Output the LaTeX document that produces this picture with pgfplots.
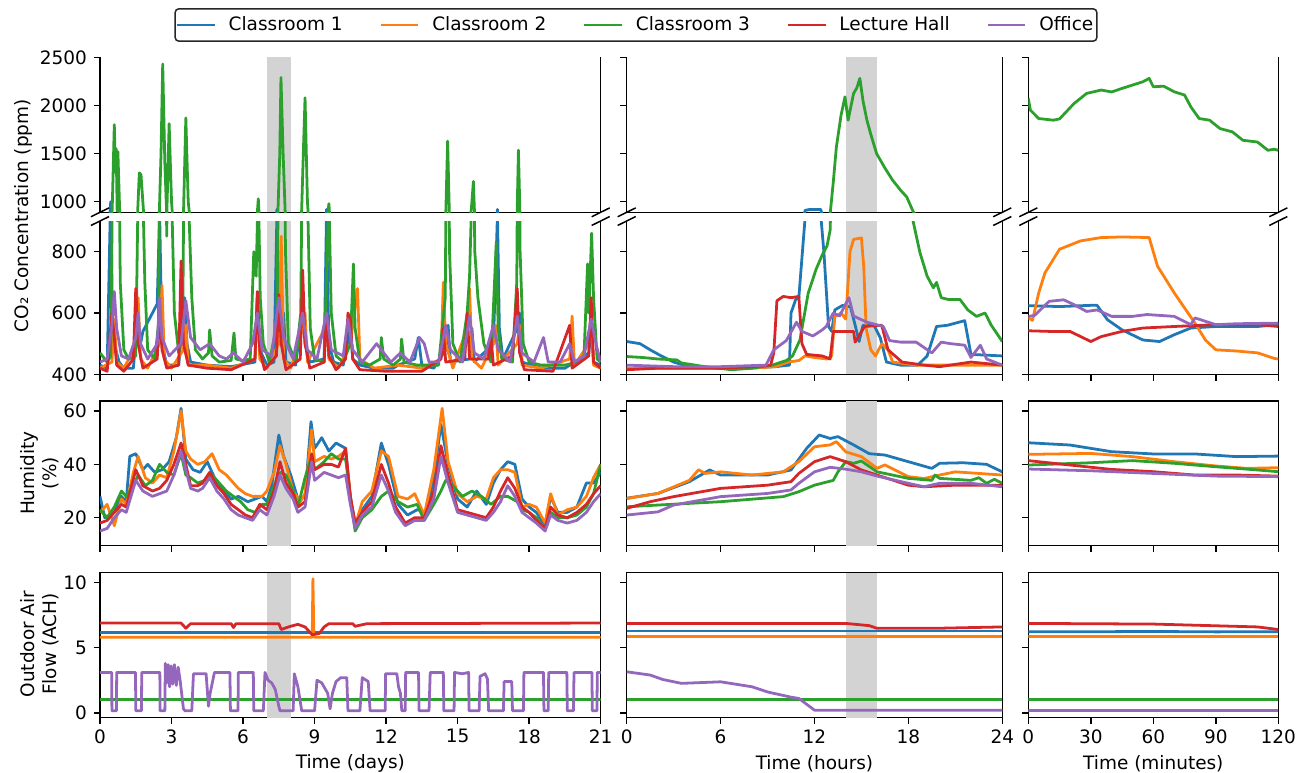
\documentclass[border=0pt]{standalone}
\usepackage{fontspec}
\setmainfont{DejaVu Sans}
\usepackage{pgfplots}
\usepackage{pgfplotstable}
\pgfplotsset{compat=1.18}
\definecolor{cA}{HTML}{1F77B4}
\definecolor{cB}{HTML}{FF7F0E}
\definecolor{cC}{HTML}{2CA02C}
\definecolor{cD}{HTML}{D62728}
\definecolor{cE}{HTML}{9467BD}
\definecolor{spangray}{HTML}{D3D3D3}
\newcommand{\figfont}{\fontsize{13.3}{16}\selectfont}

% ---- CO2, 21 days ----
\pgfplotstableread[row sep=\\]{x y\\0 430\\0.3 420\\0.45 1000\\0.52 600\\0.6 500\\0.8 440\\1.0 420\\1.4 420\\1.55 560\\1.7 500\\1.8 540\\2.4 630\\2.5 930\\2.6 500\\2.8 430\\3.3 430\\3.55 650\\3.65 500\\3.8 440\\4.5 430\\5.5 425\\6.5 440\\6.6 660\\6.7 480\\7.0 430\\7.3 440\\7.42 920\\7.5 550\\7.7 600\\7.8 440\\8.2 430\\8.5 600\\8.6 500\\8.8 440\\9.4 450\\9.5 920\\9.6 500\\9.8 440\\10.2 430\\10.5 550\\10.6 450\\10.9 430\\11.5 420\\12.3 420\\12.5 430\\13.2 450\\13.35 520\\13.5 430\\14.0 420\\14.5 480\\14.6 560\\14.7 440\\15.5 450\\15.6 550\\15.7 440\\16.5 500\\16.67 920\\16.75 550\\16.9 450\\17.5 550\\17.6 600\\17.7 440\\18.5 420\\19.5 420\\20.5 470\\20.6 550\\20.7 440\\21 430\\}\coA
\pgfplotstableread[row sep=\\]{x y\\0 420\\0.5 440\\0.6 580\\0.7 440\\1.0 420\\1.55 500\\1.6 650\\1.7 450\\2.0 420\\2.5 500\\2.6 690\\2.7 450\\3.0 420\\3.5 480\\3.6 560\\3.7 430\\4.5 430\\5.5 420\\6.5 450\\6.6 650\\6.7 450\\7.0 420\\7.5 500\\7.6 850\\7.7 450\\8.0 420\\8.5 550\\8.6 600\\8.7 440\\9.5 560\\9.6 450\\10.0 420\\10.5 500\\10.6 560\\10.8 680\\10.9 450\\11.5 420\\12.5 430\\13.5 420\\14.3 450\\14.4 700\\14.5 500\\14.8 420\\15.4 550\\15.5 680\\15.6 450\\16.0 420\\16.5 500\\16.6 560\\16.7 430\\17.5 500\\17.6 560\\17.7 430\\18.5 420\\19.7 450\\19.8 590\\19.9 430\\20.5 500\\20.6 600\\20.7 430\\21 420\\}\coB
\pgfplotstableread[row sep=\\]{x y\\0 470\\0.3 440\\0.45 460\\0.52 1000\\0.6 1800\\0.65 1300\\0.68 1550\\0.72 900\\0.75 1520\\0.85 700\\1.0 480\\1.2 450\\1.5 460\\1.58 900\\1.65 1300\\1.72 1280\\1.88 700\\2.0 480\\2.3 450\\2.45 560\\2.56 1500\\2.63 2430\\2.72 1400\\2.8 850\\2.9 1810\\3.0 1000\\3.12 600\\3.3 470\\3.47 560\\3.6 1870\\3.7 1000\\3.85 650\\4.0 480\\4.3 450\\4.55 470\\4.6 545\\4.7 460\\5.0 440\\5.5 445\\5.62 535\\5.7 450\\6.0 445\\6.3 450\\6.45 800\\6.55 720\\6.64 1030\\6.72 650\\6.85 500\\7.1 440\\7.42 560\\7.54 1500\\7.59 2290\\7.68 1500\\7.78 800\\7.9 500\\8.2 440\\8.42 600\\8.54 1600\\8.6 2080\\8.7 1000\\8.82 550\\9.0 450\\9.4 440\\9.53 800\\9.6 980\\9.7 600\\9.9 460\\10.2 440\\10.5 500\\10.6 700\\10.63 760\\10.7 550\\10.9 440\\11.3 430\\11.75 450\\11.8 520\\11.9 450\\12.3 430\\12.6 450\\12.65 515\\12.75 440\\13.3 430\\13.8 430\\14.2 430\\14.48 650\\14.58 1630\\14.66 800\\14.8 500\\15.1 440\\15.4 600\\15.5 720\\15.6 1000\\15.66 1210\\15.72 800\\15.85 650\\16.1 500\\16.4 440\\16.62 830\\16.7 550\\16.85 450\\17.3 440\\17.48 700\\17.55 1535\\17.62 800\\17.75 500\\18.0 440\\18.5 430\\19.0 430\\19.5 430\\20.0 440\\20.3 460\\20.45 760\\20.5 600\\20.62 860\\20.7 650\\20.85 450\\21 440\\}\coC
\pgfplotstableread[row sep=\\]{x y\\0 420\\0.3 410\\0.5 600\\0.6 520\\0.7 430\\1.0 410\\1.4 450\\1.5 680\\1.6 500\\1.8 420\\2.4 450\\2.5 620\\2.6 480\\2.8 420\\3.3 430\\3.4 770\\3.5 500\\3.7 430\\4.5 420\\5.5 415\\6.5 450\\6.6 670\\6.7 480\\6.9 415\\7.4 460\\7.5 660\\7.6 500\\7.8 415\\8.4 450\\8.5 740\\8.6 500\\8.8 420\\9.4 440\\9.5 600\\9.6 460\\9.9 415\\10.3 450\\10.4 600\\10.5 580\\10.6 450\\10.9 415\\12.0 410\\13.5 410\\14.3 450\\14.4 550\\14.5 440\\15.3 450\\15.4 600\\15.5 450\\16.3 450\\16.4 520\\16.5 430\\17.3 460\\17.5 680\\17.6 470\\17.8 415\\19.0 410\\19.7 560\\19.8 420\\20.5 460\\20.6 650\\20.7 440\\21 420\\}\coD
\pgfplotstableread[row sep=\\]{x y\\0 440\\0.3 450\\0.5 560\\0.6 670\\0.7 550\\0.9 460\\1.2 450\\1.5 520\\1.6 600\\1.7 500\\2.0 450\\2.4 500\\2.5 650\\2.6 520\\2.9 460\\3.4 500\\3.6 640\\3.8 520\\4.2 480\\4.6 500\\5.0 460\\5.3 450\\5.6 470\\6.0 440\\6.4 500\\6.6 600\\6.8 480\\7.2 460\\7.5 650\\7.7 520\\8.1 450\\8.5 600\\8.7 480\\9.1 450\\9.5 600\\9.7 480\\10.2 460\\10.4 580\\10.6 480\\11.0 440\\11.6 500\\11.8 480\\12.2 440\\12.6 470\\13.0 440\\13.4 520\\13.6 500\\13.8 440\\14.2 440\\14.5 560\\14.7 480\\15.2 440\\15.5 590\\15.7 470\\16.1 450\\16.5 560\\16.7 480\\17.2 440\\17.5 590\\17.7 470\\18.2 440\\18.6 520\\18.8 440\\19.3 440\\19.7 500\\19.9 440\\20.3 460\\20.6 580\\20.8 500\\21 440\\}\coE

% ---- CO2, 24 hours ----
\pgfplotstableread[row sep=\\]{x y\\0 507\\0.85 500\\1.5 480\\2.1 463\\3 440\\4 425\\6 421\\8 421\\9.5 425\\10.4 430\\10.5 600\\10.8 644\\11.0 650\\11.2 780\\11.4 910\\11.7 920\\12.4 920\\12.6 800\\12.9 556\\13.1 540\\13.3 610\\13.8 625\\14.3 620\\14.6 560\\14.85 507\\15.1 560\\15.8 560\\16.2 520\\16.6 440\\17.5 430\\18.6 430\\19.2 460\\19.8 556\\20.5 560\\21.6 575\\22.0 465\\24 460\\}\hoA
\pgfplotstableread[row sep=\\]{x y\\0 420\\4 420\\8 420\\9.5 425\\10.3 440\\11.0 445\\11.4 460\\12.0 455\\12.8 450\\13.1 460\\13.3 589\\13.7 600\\14.0 580\\14.27 800\\14.5 840\\15.0 845\\15.15 750\\15.3 550\\15.6 480\\15.9 460\\16.3 500\\16.7 480\\17.0 440\\18.5 430\\21 430\\24 430\\}\hoB
\pgfplotstableread[row sep=\\]{x y\\0 458\\1 455\\2 450\\3.2 447\\3.5 437\\5 425\\6.7 415\\8 420\\9.3 430\\10.2 445\\10.6 460\\11.07 512\\11.6 665\\12.1 742\\12.5 790\\12.8 818\\13.0 870\\13.2 1200\\13.4 1569\\13.7 1900\\13.95 2090\\14.15 1847\\14.5 2125\\14.7 2180\\14.9 2281\\15.1 2050\\15.35 1847\\15.6 1700\\15.97 1500\\16.5 1350\\17.0 1222\\17.5 1120\\17.9 1048\\18.3 900\\18.74 797\\19.2 720\\19.6 682\\19.8 700\\20.1 650\\20.55 644\\21.3 644\\21.8 610\\22.36 589\\22.9 600\\23.3 560\\24 507\\}\hoC
\pgfplotstableread[row sep=\\]{x y\\0 415\\2 420\\4 420\\6 420\\8 425\\9.2 430\\9.4 470\\9.6 640\\10 654\\10.5 650\\11.0 654\\11.2 500\\11.5 465\\12.5 460\\13.0 450\\13.2 540\\14.5 540\\14.6 505\\15.2 556\\16.3 560\\16.7 480\\17.6 440\\19 430\\20 425\\22 440\\24 430\\}\hoD
\pgfplotstableread[row sep=\\]{x y\\0 430\\3 425\\6 425\\8.9 430\\9.4 480\\10.2 510\\10.85 570\\11.2 540\\11.9 525\\12.5 545\\12.75 556\\13.2 600\\13.6 590\\14.2 650\\14.5 590\\15.35 570\\16.4 556\\16.8 510\\17.5 505\\18.5 505\\19.5 470\\20.1 505\\20.7 500\\21.6 495\\22.0 455\\22.6 495\\23.0 450\\24 430\\}\hoE

% ---- CO2, 120 minutes ----
\pgfplotstableread[row sep=\\]{x y\\0 624\\15 621\\30 625\\33 625\\38 578\\45 545\\55 512\\63 507\\70 529\\78 551\\90 556\\110 556\\120 562\\}\moA
\pgfplotstableread[row sep=\\]{x y\\0 584\\2 576\\5 666\\8 731\\15 808\\25 835\\35 846\\45 848\\58 846\\62 753\\70 666\\80 567\\85 512\\90 480\\100 476\\110 470\\118 452\\120 450\\}\moB
\pgfplotstableread[row sep=\\]{x y\\0 2073\\1 1951\\5 1864\\12 1847\\15 1860\\22 2021\\28 2125\\35 2160\\40 2140\\45 2177\\55 2246\\58 2281\\60 2194\\65 2200\\70 2142\\75 2108\\78 1986\\82 1864\\87 1847\\92 1760\\98 1725\\103 1638\\110 1620\\115 1534\\118 1545\\120 1534\\}\moC
\pgfplotstableread[row sep=\\]{x y\\0 542\\10 540\\20 540\\30 507\\35 523\\45 540\\55 551\\70 556\\90 562\\110 562\\120 556\\}\moD
\pgfplotstableread[row sep=\\]{x y\\0 589\\3 592\\10 638\\17 643\\22 627\\28 605\\33 610\\40 589\\50 589\\57 595\\70 589\\78 562\\80 584\\90 562\\100 565\\120 567\\}\moE

\pgfplotsset{
  base/.style={scale only axis, anchor=north west, clip mode=individual,
    /pgf/number format/assume math mode=true, /pgf/number format/1000 sep={},
    tick align=outside, tick pos=left, major tick length=4.67pt,
    tick style={black, line width=1.07pt},
    axis line style={line width=1.07pt},
    tick label style={font=\figfont},
    label style={font=\figfont},
    xticklabel style={yshift=-0.3pt},
    yticklabel style={xshift=-1.2pt},
    every axis plot/.append style={line width=2pt, line join=round},
  },
  colA/.style={xmin=0, xmax=21, width=360.5pt, xtick={0,3,...,21}},
  colB/.style={xmin=0, xmax=24, width=270.4pt, xtick={0,6,...,24}, yticklabels={}},
  colC/.style={xmin=0, xmax=120, width=180pt, xtick={0,30,...,120}, yticklabels={}},
  coup/.style={height=111.6pt, ymin=890, ymax=2500, ytick={1000,1500,2000,2500}, axis x line*=top, x axis line style={-}, xtick=\empty},
  colo/.style={height=110.4pt, ymin=400, ymax=900, ytick={400,600,800}, axis x line*=bottom, x axis line style={-}, xticklabels={}},
  hum/.style={height=104.2pt, ymin=9.5, ymax=63.75, ytick={20,40,60}, xticklabels={}},
  air/.style={height=104.4pt, ymin=-0.38, ymax=10.77, ytick={0,5,10}},
}
\newcommand{\brkbottom}{%
  \draw[line width=1.07pt] (rel axis cs:0,0) ++(-6.5pt,-3.2pt) -- ++(13pt,6.4pt);
  \draw[line width=1.07pt] (rel axis cs:1,0) ++(-6.5pt,-3.2pt) -- ++(13pt,6.4pt);}
\newcommand{\brktop}{%
  \draw[line width=1.07pt] (rel axis cs:0,1) ++(-6.5pt,-3.2pt) -- ++(13pt,6.4pt);
  \draw[line width=1.07pt] (rel axis cs:1,1) ++(-6.5pt,-3.2pt) -- ++(13pt,6.4pt);}
% shaded spans: #1 = ymin, #2 = ymax of the panel
\newcommand{\spanA}[2]{\addplot[draw=none, fill=spangray, forget plot] coordinates {(7,#1) (7,#2) (8,#2) (8,#1)} -- cycle;}
\newcommand{\spanB}[2]{\addplot[draw=none, fill=spangray, forget plot] coordinates {(14,#1) (14,#2) (16,#2) (16,#1)} -- cycle;}
\newcommand{\fivetables}[5]{%
  \addplot[cA] table {#1};
  \addplot[cB] table {#2};
  \addplot[cC] table {#3};
  \addplot[cD] table {#4};
  \addplot[cE] table {#5};}

\begin{document}
\begin{tikzpicture}
\path[use as bounding box] (0,0) rectangle (937.44pt,-556.56pt);

% ============ column A ============
\begin{axis}[base, colA, coup, at={(72pt,-41.26pt)},
  legend style={at={(1.0705,1.2084)}, anchor=center, legend columns=5,
    draw=black!85, line width=1.07pt, rounded corners=2.5pt,
    font=\figfont, inner xsep=0.5pt, inner ysep=3.8pt,
    /tikz/every odd column/.append style={column sep=7pt},
    /tikz/every even column/.append style={column sep=24.5pt}},
  legend image code/.code={\draw[#1, line width=2pt] (0pt,0pt) -- (27pt,0pt);},
  legend cell align=left]
\spanA{890}{2500}
\fivetables{\coA}{\coB}{\coC}{\coD}{\coE}
\legend{Classroom 1, Classroom 2, Classroom 3, Lecture Hall, Office}
\brkbottom
\end{axis}

\begin{axis}[base, colA, colo, at={(72pt,-159.12pt)},
  ylabel={CO₂ Concentration (ppm)},
  ylabel style={at={(rel axis cs:-0.152,1.034)}, anchor=center}]
\spanA{400}{900}
\fivetables{\coA}{\coB}{\coC}{\coD}{\coE}
\brktop
\end{axis}

\begin{axis}[base, colA, hum, at={(72pt,-288.72pt)},
  ylabel={Humidity\\(\%)},
  ylabel style={align=center, at={(rel axis cs:-0.121,0.502)}, anchor=center}]
\spanA{9.5}{63.75}
\addplot[cA] coordinates {(0,28)(0.2,20)(0.6,22)(0.9,28)(1.1,26)(1.25,43)(1.5,44)(1.8,38)(2.0,40)(2.3,37)(2.6,38)(2.9,41)(3.2,50)(3.4,61)(3.6,42)(3.9,38)(4.2,37)(4.5,41)(4.8,35)(5.2,30)(5.5,27)(5.8,28)(6.2,26)(6.5,27)(6.8,28)(7.0,26)(7.2,32)(7.5,51)(7.7,43)(8.0,36)(8.3,27)(8.6,28)(8.85,56)(9.0,46)(9.3,50)(9.6,45)(9.9,48)(10.3,46)(10.5,27)(10.7,18)(11.0,23)(11.4,28)(11.8,48)(12.1,40)(12.5,25)(12.9,21)(13.3,23)(13.7,22)(14.0,35)(14.3,55)(14.6,40)(15.0,27)(15.4,24)(15.8,30)(16.2,25)(16.5,33)(16.8,38)(17.1,41)(17.4,40)(17.7,27)(18.0,24)(18.3,22)(18.67,17)(18.9,28)(19.2,22)(19.6,22)(20.0,24)(20.4,33)(20.7,33)(21,37)};
\addplot[cB] coordinates {(0,22)(0.3,25)(0.6,17)(0.9,27)(1.1,25)(1.4,37)(1.6,43)(1.9,35)(2.2,33)(2.5,36)(2.8,35)(3.1,45)(3.4,60)(3.6,45)(3.8,42)(4.1,40)(4.4,41)(4.7,44)(5.0,38)(5.3,36)(5.6,33)(5.8,31)(6.1,29)(6.4,28)(6.8,28)(7.0,30)(7.3,37)(7.55,47)(7.8,40)(8.1,30)(8.4,26)(8.6,29)(8.88,53)(9.0,41)(9.4,43)(9.7,42)(10.0,43)(10.3,45)(10.5,28)(10.7,17)(11.0,26)(11.4,30)(11.8,45)(12.1,43)(12.5,28)(12.9,27)(13.2,29)(13.6,21)(14.0,38)(14.35,61)(14.6,41)(15.0,29)(15.4,26)(15.8,28)(16.2,27)(16.5,35)(16.8,38)(17.1,38)(17.4,37)(17.7,24)(18.0,25)(18.3,24)(18.67,18)(18.9,29)(19.2,21)(19.6,23)(20.0,24)(20.4,28)(20.7,35)(21,40)};
\addplot[cC] coordinates {(0,23)(0.3,20)(0.6,24)(0.9,30)(1.1,28)(1.4,32)(1.6,36)(1.9,32)(2.2,34)(2.5,40)(2.8,37)(3.1,36)(3.4,44)(3.6,36)(3.8,35)(4.1,33)(4.4,34)(4.7,36)(5.0,33)(5.3,30)(5.6,28)(5.9,26)(6.2,23)(6.5,22)(6.8,25)(7.0,25)(7.3,32)(7.55,37)(7.8,36)(8.1,30)(8.3,24)(8.6,35)(8.88,43)(9.0,38)(9.4,41)(9.7,44)(10.0,42)(10.3,42)(10.5,28)(10.7,15)(11.0,20)(11.4,23)(11.8,28)(12.1,30)(12.5,26)(12.9,24)(13.3,25)(13.6,19)(14.0,25)(14.3,30)(14.5,34)(14.8,32)(15.2,28)(15.6,30)(16.0,28)(16.4,25)(16.8,28)(17.1,28)(17.5,26)(17.7,23)(18.0,22)(18.3,20)(18.67,16)(18.9,22)(19.2,20)(19.6,20)(20.0,21)(20.4,24)(20.7,29)(21,40)};
\addplot[cD] coordinates {(0,18)(0.3,19)(0.6,22)(0.9,25)(1.1,24)(1.5,38)(1.8,32)(2.2,30)(2.5,31)(2.8,34)(3.1,40)(3.4,48)(3.6,40)(3.8,32)(4.1,32)(4.3,33)(4.6,37)(4.9,32)(5.2,29)(5.5,25)(5.8,23)(6.1,21)(6.4,20)(6.7,25)(7.0,23)(7.3,30)(7.55,41)(7.8,33)(8.1,29)(8.3,24)(8.6,26)(8.88,44)(9.0,38)(9.4,40)(9.7,40)(10.0,39)(10.3,46)(10.5,28)(10.7,18)(11.0,22)(11.4,26)(11.8,40)(12.1,33)(12.4,24)(12.8,18)(13.2,20)(13.6,20)(14.0,30)(14.3,47)(14.6,36)(15.0,23)(15.4,22)(15.8,21)(16.2,20)(16.5,24)(16.8,30)(17.1,35)(17.4,31)(17.7,24)(18.0,22)(18.3,19)(18.67,16)(18.9,24)(19.2,21)(19.6,20)(20.0,22)(20.4,25)(20.7,29)(21,32)};
\addplot[cE] coordinates {(0,15)(0.3,16)(0.6,20)(0.9,23)(1.1,22)(1.5,34)(1.8,30)(2.2,28)(2.5,29)(2.8,30)(3.1,36)(3.4,45)(3.6,38)(3.8,31)(4.1,30)(4.3,31)(4.6,35)(4.9,30)(5.2,27)(5.5,23)(5.8,21)(6.1,20)(6.4,19)(6.7,23)(7.0,21)(7.3,28)(7.55,36)(7.8,31)(8.1,27)(8.3,22)(8.6,24)(8.88,41)(9.0,34)(9.4,37)(9.7,36)(10.0,35)(10.3,36)(10.5,25)(10.7,16)(11.0,21)(11.4,24)(11.8,36)(12.1,30)(12.4,22)(12.8,17)(13.2,19)(13.6,19)(14.0,27)(14.3,43)(14.6,33)(15.0,22)(15.4,21)(15.8,20)(16.2,19)(16.5,22)(16.8,26)(17.1,32)(17.4,28)(17.7,22)(18.0,20)(18.3,18)(18.67,15)(18.9,21)(19.2,19)(19.6,18)(20.0,19)(20.4,22)(20.7,26)(21,29)};
\end{axis}

\begin{axis}[base, colA, air, at={(72pt,-412.34pt)},
  ylabel={Outdoor Air\\Flow (ACH)},
  ylabel style={align=center, at={(rel axis cs:-0.121,0.508)}, anchor=center},
  xlabel={Time (days)},
  xlabel style={at={(rel axis cs:0.5,-0.315)}, anchor=center}]
\spanA{-0.38}{10.77}
\addplot[cA] coordinates {(0,6.2)(21,6.2)};
\addplot[cB] coordinates {(0,5.8)(8.9,5.8)(8.93,10.3)(8.97,6.0)(9.0,5.8)(21,5.8)};
\addplot[cC] coordinates {(0,1.0)(21,1.0)};
\addplot[cD] coordinates {(0,6.9)(3.4,6.9)(3.6,6.5)(3.8,6.85)(5.5,6.85)(5.6,6.55)(5.7,6.85)(7.5,6.85)(7.6,6.4)(7.9,6.6)(8.3,6.8)(8.6,6.6)(8.9,6.0)(9.2,6.1)(9.4,6.6)(9.6,6.85)(10.6,6.85)(10.7,6.65)(11.2,6.85)(21,6.9)};
\addplot[cE] coordinates {(0,3.1)(0.49,3.1)(0.5,0.15)(0.69,0.15)(0.7,3.1)(1.49,3.1)(1.5,0.15)(1.74,0.15)(1.75,3.1)(2.51,3.1)(2.52,0.15)(2.72,0.15)(2.74,3.8)(2.8,2.3)(2.86,3.7)(2.92,2.0)(2.98,3.6)(3.05,2.2)(3.12,3.7)(3.2,2.1)(3.28,3.5)(3.36,2.5)(3.5,0.3)(3.57,0.15)(3.85,0.15)(3.92,3.0)(4.45,3.0)(4.55,0.5)(4.62,1.5)(4.8,3.1)(5.45,3.1)(5.47,0.15)(5.79,0.15)(5.8,3.1)(6.43,3.1)(6.45,0.15)(6.85,0.15)(6.92,3.1)(7.05,2.5)(7.2,2.3)(7.35,1.8)(7.5,0.5)(7.55,0.15)(8.1,0.15)(8.15,3.0)(8.3,2.0)(8.46,0.15)(9.0,0.15)(9.1,2.5)(9.3,2.3)(9.55,1.5)(9.65,0.3)(9.75,1.5)(9.9,2.4)(10.1,2.7)(10.35,2.7)(10.4,0.15)(10.9,0.15)(11.0,2.7)(11.25,2.4)(11.33,0.15)(11.96,0.15)(11.98,3.0)(12.45,3.0)(12.52,2.0)(12.6,1.5)(12.66,0.15)(12.8,0.15)(12.82,3.1)(13.36,3.1)(13.38,0.15)(13.8,0.15)(13.85,3.1)(14.4,3.1)(14.42,0.15)(14.85,0.15)(14.87,3.1)(15.2,3.0)(15.46,3.1)(15.48,0.15)(15.9,0.15)(15.94,2.8)(16.15,3.0)(16.25,2.6)(16.3,0.15)(16.92,0.15)(16.95,2.4)(17.27,2.4)(17.3,0.15)(17.76,0.15)(17.78,3.1)(18.6,3.1)(18.62,0.15)(18.8,0.15)(18.82,3.1)(19.58,3.1)(19.6,0.15)(19.86,0.15)(19.88,3.1)(20.63,3.1)(20.65,0.15)(20.84,0.15)(20.86,3.1)(21,3.1)};
\end{axis}

% ============ column B ============
\begin{axis}[base, colB, coup, at={(451.22pt,-41.26pt)}]
\spanB{890}{2500}
\fivetables{\hoA}{\hoB}{\hoC}{\hoD}{\hoE}
\brkbottom
\end{axis}
\begin{axis}[base, colB, colo, at={(451.22pt,-159.12pt)}]
\spanB{400}{900}
\fivetables{\hoA}{\hoB}{\hoC}{\hoD}{\hoE}
\brktop
\end{axis}
\begin{axis}[base, colB, hum, at={(451.22pt,-288.72pt)}]
\spanB{9.5}{63.75}
\addplot[cA] coordinates {(0,27.3)(2,29.1)(4,33.5)(5.3,37.9)(6,36)(9,36)(10.5,37.9)(11.5,46)(12.3,51)(13,49.7)(13.5,50.4)(14.5,47.3)(15.5,44)(16.5,43.5)(18,41)(19.5,38.5)(20,40.4)(21.5,40.6)(23,40)(24,37.2)};
\addplot[cB] coordinates {(0,27.2)(2,29.1)(4,34)(4.6,38)(5,36.6)(6,37.2)(8,36)(10,37.2)(11,41)(12,46.6)(13,47.3)(13.4,48.5)(14,44.7)(15,42.9)(16,38.5)(16.5,39.8)(18,35.4)(19,34.7)(20,36)(21,37.2)(24,36)};
\addplot[cC] coordinates {(0,24.1)(2,24.75)(6,26)(10,27.9)(11,29.75)(12,32.2)(13.2,34)(13.5,37.2)(14,41)(14.5,40.4)(15,41.25)(16,37.2)(18,34.75)(19.5,34)(19.7,36)(20,34.75)(22,34)(22.5,35)(23,32.9)(23.5,34.4)(24,32.9)};
\addplot[cD] coordinates {(0,23.5)(1.5,26)(3,27.9)(6,31)(9,32.2)(10.5,33.5)(11,36.6)(12,41)(13,42.9)(14,41)(15,37.9)(16,36)(18,32.2)(19,31.6)(21,32.2)(24,32.2)};
\addplot[cE] coordinates {(0,21)(2,22.2)(3,24.75)(6,27.9)(9,29.1)(10.5,30.4)(11,32.9)(12,37.2)(13,38.9)(14,38.2)(15,37.2)(16,35.6)(18,32.9)(19,31.6)(20,32.9)(22,32.9)(24,31.6)};
\end{axis}
\begin{axis}[base, colB, air, at={(451.22pt,-412.34pt)},
  xlabel={Time (hours)},
  xlabel style={at={(rel axis cs:0.5,-0.315)}, anchor=center}]
\spanB{-0.38}{10.77}
\addplot[cA] coordinates {(0,6.28)(24,6.28)};
\addplot[cB] coordinates {(0,5.85)(24,5.85)};
\addplot[cC] coordinates {(0,1.03)(24,1.03)};
\addplot[cD] coordinates {(0,6.87)(14,6.87)(15.5,6.7)(16,6.49)(20,6.5)(24,6.6)};
\addplot[cE] coordinates {(0,3.15)(1.5,2.9)(2.3,2.56)(3.5,2.26)(6,2.38)(8,2.0)(9,1.6)(10.5,1.2)(11,1.1)(12,0.2)(24,0.2)};
\end{axis}

% ============ column C ============
\begin{axis}[base, colC, coup, at={(740.38pt,-41.26pt)}]
\fivetables{\moA}{\moB}{\moC}{\moD}{\moE}
\brkbottom
\end{axis}
\begin{axis}[base, colC, colo, at={(740.38pt,-159.12pt)}]
\fivetables{\moA}{\moB}{\moC}{\moD}{\moE}
\brktop
\end{axis}
\begin{axis}[base, colC, hum, at={(740.38pt,-288.72pt)}]
\addplot[cA] coordinates {(0,48.1)(20,47.25)(30,46)(40,44.75)(60,43.9)(80,43.9)(100,42.9)(120,43.1)};
\addplot[cB] coordinates {(0,43.75)(30,44.1)(50,42.9)(70,41)(90,39.4)(105,38.5)(120,38.75)};
\addplot[cC] coordinates {(0,39.75)(30,40.6)(50,41.4)(70,40.4)(90,39.1)(110,37.9)(120,37.25)};
\addplot[cD] coordinates {(0,41.4)(20,39.75)(40,38.1)(60,37.25)(80,36)(100,36)(120,35.6)};
\addplot[cE] coordinates {(0,38.25)(30,37.6)(60,36.6)(90,35.6)(120,35.4)};
\end{axis}
\begin{axis}[base, colC, air, at={(740.38pt,-412.34pt)},
  xlabel={Time (minutes)},
  xlabel style={at={(rel axis cs:0.5,-0.315)}, anchor=center}]
\addplot[cA] coordinates {(0,6.23)(30,6.23)(60,6.25)(90,6.22)(120,6.23)};
\addplot[cB] coordinates {(0,5.85)(60,5.85)(120,5.85)};
\addplot[cC] coordinates {(0,1.03)(120,1.03)};
\addplot[cD] coordinates {(0,6.87)(60,6.82)(110,6.6)(120,6.4)};
\addplot[cE] coordinates {(0,0.15)(120,0.15)};
\end{axis}
\end{tikzpicture}
\end{document}
